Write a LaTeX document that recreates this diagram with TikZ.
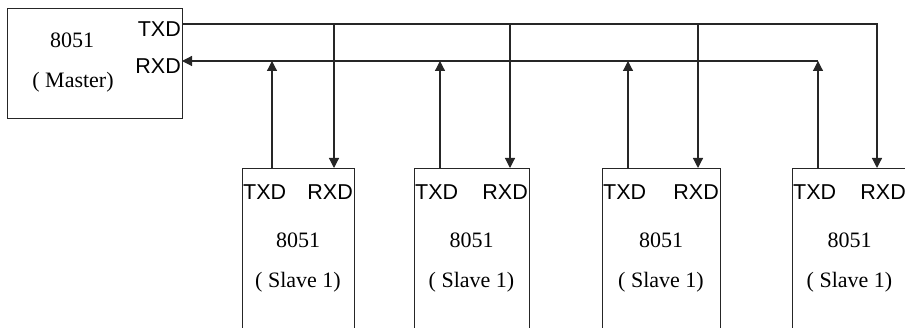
\documentclass[tikz,border=0pt]{standalone}
\usepackage{fontspec}
\setmainfont{Liberation Serif}
\newfontfamily\pinfont{Liberation Sans}
\usetikzlibrary{arrows.meta}
\begin{document}
\begin{tikzpicture}[x=1pt,y=-1pt,
  wire/.style={line width=1.2pt, draw=black!85},
  tip/.style={-{Triangle[length=10pt,width=10pt]}},
  chip/.style={draw=black!85, line width=1.2pt, rectangle, inner sep=0pt, anchor=north west},
  pin/.style={font=\pinfont\fontsize{21.5}{21.5}\selectfont, inner sep=0pt},
  chiptext/.style={font=\fontsize{22}{22}\selectfont, inner sep=0pt}]
\useasboundingbox (0,0) rectangle (905,328);
\clip (0,0) rectangle (905,328);

% master controller
\node[chip, minimum width=175pt, minimum height=110pt] (m) at (7,8) {};
\node[chiptext] (m-name) at (72,40) {8051};
\node[chiptext] (m-role) at (73,82) {( Master)};
\node[pin, anchor=east] (m-txd) at (181,29) {TXD};
\node[pin, anchor=east] (m-rxd) at (181,66) {RXD};
\coordinate (m-tx) at (182,24);
\coordinate (m-rx) at (182,61);

% slave controllers: index / left / right / tx pin x / rx pin x
\foreach \i/\l/\r/\tx/\rx in {1/242/354/272/334, 2/414/529/440/510, 3/602/720/628/698, 4/792/907/818/877}{
  \node[chip, minimum width={(\r-\l)*1pt}, minimum height=172pt] (s\i) at (\l,168) {};
  \node[pin, anchor=west] (s\i-txd) at (\l+1,192) {TXD};
  \node[pin, anchor=east] (s\i-rxd) at (\r-1,192) {RXD};
  \node[chiptext] (s\i-name) at ({(\l+\r)/2},240) {8051};
  \node[chiptext] (s\i-role) at ({(\l+\r)/2},282) {( Slave 1)};
  \coordinate (s\i-tx) at (\tx,168);
  \coordinate (s\i-rx) at (\rx,168);
}

% master TXD bus to every slave RXD
\draw[wire, tip] (m-tx) -| (s4-rx);
\foreach \i in {1,2,3}
  \draw[wire, tip] (s\i-rx |- m-tx) -- (s\i-rx);

% slave TXD lines onto the master RXD bus
\draw[wire, tip] (s4-tx |- m-rx) -- (m-rx);
\foreach \i in {1,...,4}
  \draw[wire, tip] (s\i-tx) -- (s\i-tx |- m-rx);
\end{tikzpicture}
\end{document}
